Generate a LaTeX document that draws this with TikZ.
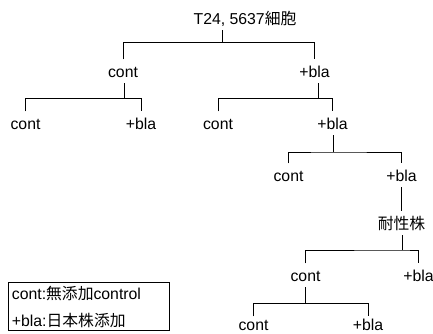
\documentclass[tikz,border=0pt]{standalone}
\usepackage{fontspec}
\setmainfont{Liberation Sans}
\newfontfamily\cjk{Noto Sans CJK JP}
\begin{document}
\begin{tikzpicture}[x=1pt,y=-1pt,
  lbl/.style={inner xsep=0pt, inner ysep=6pt, text height=11.5pt, text depth=0pt,
              anchor=base, font=\fontsize{15.8}{19}\selectfont},
  lowlbl/.style={lbl, text height=7.5pt},
  branch/.style={line width=1pt, draw=black},
  keytext/.style={inner sep=0pt, anchor=base west, font=\fontsize{15.8}{19}\selectfont}]
\useasboundingbox (0,0) rectangle (433,333);

% tree nodes (x = centre, y = baseline)
\node[lbl] (root) at (245,24) {T24, 5637{\cjk 細胞}};
\node[lbl] (c1) at (123,77) {cont};
\node[lbl] (b1) at (314.5,77) {+bla};
\node[lbl] (c2) at (25.5,129) {cont};
\node[lbl] (b2) at (141,129) {+bla};
\node[lbl] (c3) at (218,129) {cont};
\node[lbl] (b3) at (332.5,129) {+bla};
\node[lbl] (c4) at (288.5,181) {cont};
\node[lbl] (b4) at (401.5,181) {+bla};
\node[lbl] (r5) at (401.5,229) {{\cjk 耐性株}};
\node[lbl] (c6) at (305.5,281) {cont};
\node[lbl] (b6) at (418.5,281) {+bla};
\node[lowlbl] (c7) at (253.5,330) {cont};
\node[lowlbl] (b7) at (368,330) {+bla};

% forks
\coordinate (f0) at (222.7,42.7);
\coordinate (f1) at (124,98.7);
\coordinate (f2) at (318,98.7);
\coordinate (f3) at (333,152);
\coordinate (f5) at (402,250);
\coordinate (f6) at (305.5,303.7);

\draw[branch] (root.south -| f0) -- (f0);
\draw[branch] (c1.north) |- (f0) -| (b1.north);

\draw[branch] (c1.south -| f1) -- (f1);
\draw[branch] (c2.north) |- (f1) -| (b2.north);

\draw[branch] (b1.south -| f2) -- (f2);
\draw[branch] (c3.north) |- (f2) -| (b3.north);

\draw[branch] (b3.south -| f3) -- (f3);
\draw[branch] (c4.north) |- (f3) -| (b4.north);

\draw[branch] (b4.south) -- (r5.north);

\draw[branch] (r5.south -| f5) -- (f5);
\draw[branch] (c6.north) |- (f5) -| (b6.north);

\draw[branch] (c6.south -| f6) -- (f6);
\draw[branch] (c7.north) |- (f6) -| (b7.north);

% legend
\node[draw, line width=1pt, inner sep=0pt, minimum width=160.7pt, minimum height=48.3pt,
      anchor=north west] (key) at (8.3,281.7) {};
\node[keytext] (key1) at (11.7,299) {cont:{\cjk 無添加}control};
\node[keytext] (key2) at (11.7,326) {+bla:{\cjk 日本株添加}};
\end{tikzpicture}
\end{document}
